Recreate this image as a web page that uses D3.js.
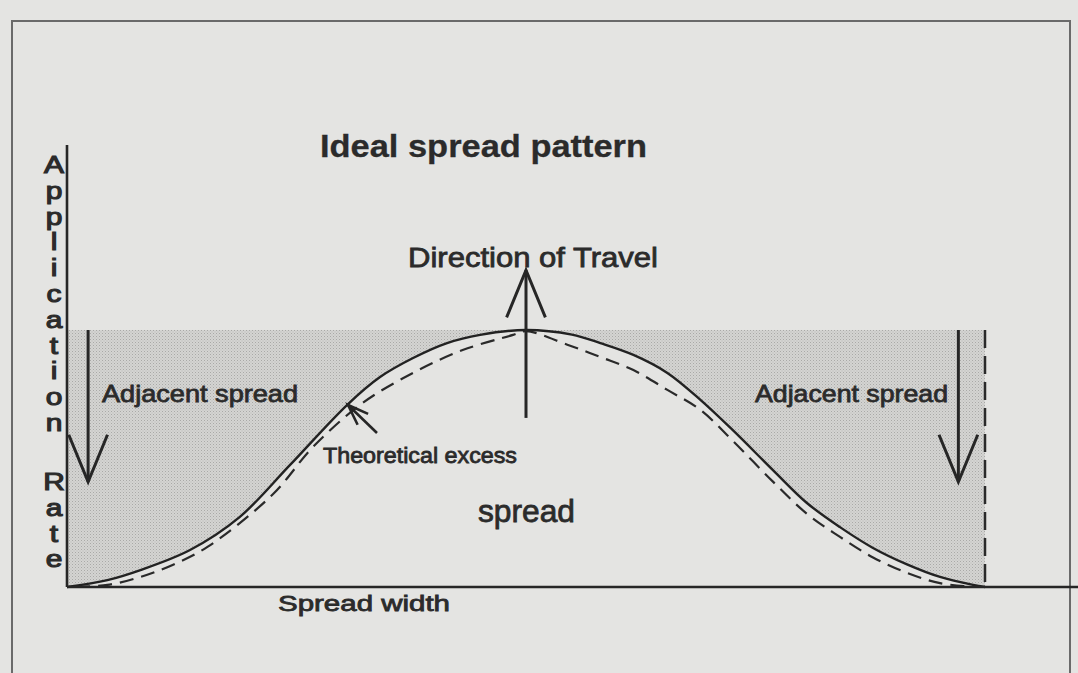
<!DOCTYPE html>
<html>
<head>
<meta charset="utf-8">
<script src="https://cdn.jsdelivr.net/npm/d3@7"></script>
<style>
  html, body { margin: 0; padding: 0; background: #e4e4e2; }
  svg { display: block; }
  text { font-family: "Liberation Sans", Arial, sans-serif; fill: #2b2b2b; }
</style>
</head>
<body>
<script>
// solid curve: ideal application rate across the spread width (% of width, % of rate)
var solidX = [0, 4.4, 8, 13.4, 18.8, 24.3, 30.5, 34.1, 37.7, 41.4, 45, 50, 55, 58.1, 61.7, 65.4, 69, 72.5, 76.9, 80.6, 84.2, 87.8, 91.5, 95.1, 98.7, 100];
var solidY = [0, 2.7, 6.6, 14.4, 27.2, 47.5, 70.8, 81.7, 89.1, 94.9, 98.1, 100, 98.2, 94.9, 90.3, 83.3, 72.8, 61.1, 45.5, 32.7, 23.3, 15.2, 8.8, 3.9, 0.8, 0];

// dashed curve: the narrower pattern (theoretical excess lies between the two)
var dashX = [1, 4.4, 8, 11.5, 15.3, 22.4, 26.8, 32.2, 37.7, 43.1, 48.6, 50, 54.5, 58.1, 61.7, 65.4, 69, 72.5, 76.9, 80.6, 84.2, 87.8, 91.5, 95.1, 99];
var dashY = [0, 0.8, 3.9, 8.6, 15.6, 36, 54.5, 71.6, 83.3, 92.2, 98.1, 99.6, 94.3, 89.5, 84.4, 76.7, 68.9, 57, 41, 28.5, 19.5, 11.5, 5.5, 1.5, 0];

var yLabelWords = ["Application", "Rate"];

//arrows in chart units: [x1, y1, x2, y2] shaft, head at (x2, y2)
var arrows = [
    [2.3, 100, 2.3, 40.9],     // adjacent spread, left
    [97.1, 100, 97.1, 40.9],   // adjacent spread, right
    [50, 65.8, 50, 123.3]      // direction of travel
];

var width = 1078, height = 673;

var svg = d3.select("body").append("svg")
    .attr("width", width)
    .attr("height", height);

//scales: x = % of spread width, y = % of peak rate (axis runs above the peak)
var x = d3.scaleLinear().domain([0, 100]).range([67, 985]);
var y = d3.scaleLinear().domain([0, 172]).range([587, 145]);

var solid = solidX.map(function(d, i){ return [d, solidY[i]]; });
var dashed = dashX.map(function(d, i){ return [d, dashY[i]]; });

//stipple pattern for the shaded band
var defs = svg.append("defs");
var pat = defs.append("pattern")
    .attr("id", "stipple")
    .attr("patternUnits", "userSpaceOnUse")
    .attr("width", 3).attr("height", 3);
pat.append("rect").attr("width", 3).attr("height", 3).attr("fill", "#d4d4d2");
pat.append("rect").attr("x", 0).attr("y", 0).attr("width", 1).attr("height", 1).attr("fill", "#a9a9a7");
pat.append("rect").attr("x", 1.5).attr("y", 1.5).attr("width", 1).attr("height", 1).attr("fill", "#b8b8b6");

//outer frame
svg.append("path")
    .attr("d", "M12," + height + "V21H1070V" + height)
    .attr("fill", "none")
    .attr("stroke", "#6a6a6a")
    .attr("stroke-width", 2);

var curve = d3.curveCatmullRom.alpha(0.5);

//shaded area above the solid curve up to peak level
var band = d3.area()
    .x(function(d){ return x(d[0]); })
    .y0(y(100))
    .y1(function(d){ return y(d[1]); })
    .curve(curve);

svg.append("path")
    .datum(solid)
    .attr("d", band)
    .attr("fill", "url(#stipple)");

var line = d3.line()
    .x(function(d){ return x(d[0]); })
    .y(function(d){ return y(d[1]); })
    .curve(curve);

svg.append("path")
    .datum(dashed)
    .attr("d", line)
    .attr("fill", "none")
    .attr("stroke", "#2a2a2a")
    .attr("stroke-width", 2.2)
    .attr("stroke-dasharray", "14,8");

svg.append("path")
    .datum(solid)
    .attr("d", line)
    .attr("fill", "none")
    .attr("stroke", "#222")
    .attr("stroke-width", 2.4);

//dashed right edge of the spread
svg.append("line")
    .attr("x1", x(100)).attr("x2", x(100))
    .attr("y1", y(100)).attr("y2", y(0))
    .attr("stroke", "#2a2a2a")
    .attr("stroke-width", 2.5)
    .attr("stroke-dasharray", "18,8");

//axes (no ticks)
svg.append("line")
    .attr("x1", x(0)).attr("x2", x(0))
    .attr("y1", y(172)).attr("y2", y(0))
    .attr("stroke", "#262626").attr("stroke-width", 2.6);
svg.append("line")
    .attr("x1", x(0)).attr("x2", width)
    .attr("y1", y(0)).attr("y2", y(0))
    .attr("stroke", "#262626").attr("stroke-width", 2.6);

//open V arrows
arrows.forEach(function(a){
    var x1 = x(a[0]), y1 = y(a[1]), x2 = x(a[2]), y2 = y(a[3]);
    var ang = Math.atan2(y2 - y1, x2 - x1), len = 51, spread = 0.39;
    var g = svg.append("g").attr("stroke", "#262626").attr("stroke-width", 3).attr("fill", "none");
    g.append("line").attr("x1", x1).attr("y1", y1).attr("x2", x2).attr("y2", y2);
    g.append("polyline").attr("points", [
        [x2 - len * Math.cos(ang - spread), y2 - len * Math.sin(ang - spread)],
        [x2, y2],
        [x2 - len * Math.cos(ang + spread), y2 - len * Math.sin(ang + spread)]
    ].map(function(p){ return p.join(","); }).join(" "));
});

//small arrow pointing at the gap between curves
var ex = svg.append("g").attr("stroke", "#262626").attr("stroke-width", 2.6).attr("fill", "none");
var tip = [348, 405], tail = [377, 433];
var ang2 = Math.atan2(tip[1] - tail[1], tip[0] - tail[0]);
ex.append("line").attr("x1", tail[0]).attr("y1", tail[1]).attr("x2", tip[0]).attr("y2", tip[1]);
ex.append("polyline").attr("points", [
    [tip[0] - 22 * Math.cos(ang2 - 0.35), tip[1] - 22 * Math.sin(ang2 - 0.35)],
    tip,
    [tip[0] - 22 * Math.cos(ang2 + 0.35), tip[1] - 22 * Math.sin(ang2 + 0.35)]
].map(function(p){ return p.join(","); }).join(" "));

//text labels
function label(t, px, py, size, len, weight){
    svg.append("text")
        .attr("x", px).attr("y", py)
        .attr("font-size", size)
        .attr("font-weight", weight || "normal")
        .attr("textLength", len)
        .attr("lengthAdjust", "spacingAndGlyphs")
        .style("stroke", "#2b2b2b")
        .style("stroke-width", weight ? 0.3 : 0.8)
        .text(t);
}
label("Ideal spread pattern", 320, 157, 32, 327, "bold");
label("Direction of Travel", 408, 267, 28, 250);
label("Adjacent spread", 102, 402, 24, 196);
label("Adjacent spread", 755, 402, 24, 193);
label("Theoretical excess", 323, 463, 22, 194);
label("spread", 478, 522, 32, 97);
label("Spread width", 278, 611, 22, 172);

//vertical y-axis label, one letter per line (glyphs widened like the print)
var starts = [173, 490], step = 25.8;
yLabelWords.forEach(function(w, k){
    w.split("").forEach(function(c, i){
        var t = svg.append("text")
            .attr("x", 54)
            .attr("y", starts[k] + i * step)
            .attr("text-anchor", "middle")
            .attr("font-size", 23)
            .style("stroke", "#2b2b2b")
            .style("stroke-width", 1.1)
            .text(c);
        var w0 = t.node().getComputedTextLength();
        t.attr("textLength", w0 * 1.3).attr("lengthAdjust", "spacingAndGlyphs");
    });
});
</script>
</body>
</html>
